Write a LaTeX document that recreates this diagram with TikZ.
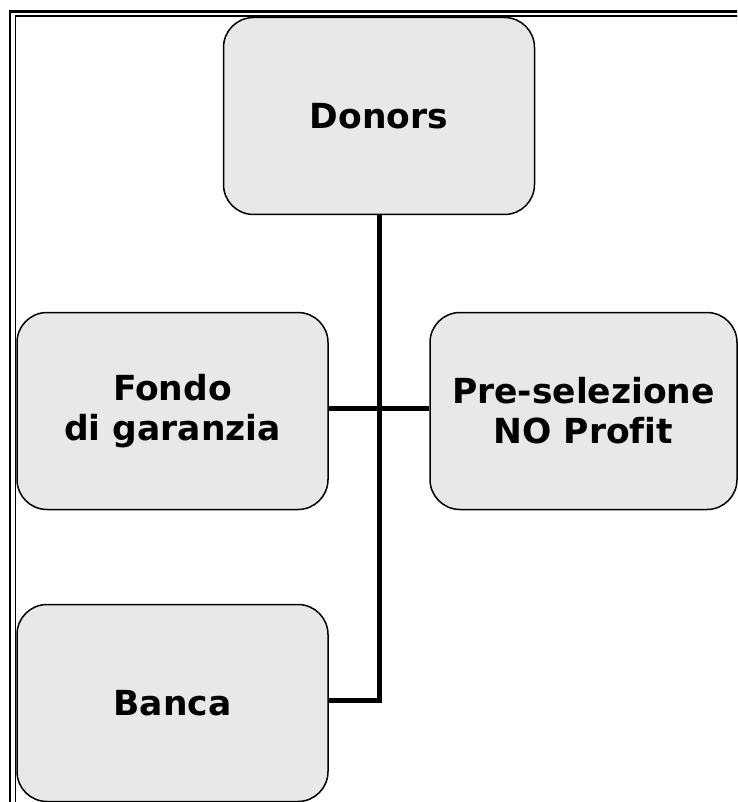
\documentclass[tikz,border=0pt]{standalone}
\usepackage{fontspec}
\setmainfont[Ligatures=NoCommon]{DejaVu Sans}
\begin{document}
\begin{tikzpicture}[x=1pt,y=-1pt,
  box/.style={draw=black, line width=1.5pt, fill=gray!18, rounded corners=30pt, font=\bfseries\fontsize{34.5}{40}\selectfont, align=center, inner sep=0pt},
  conn/.style={line width=5pt}]
\useasboundingbox (0,0) rectangle (737,802);
\begin{scope}
\clip (0,0) rectangle (737,802);
\draw[line width=2.5pt] (10,11.5) rectangle (760,830);
\draw[line width=1.2pt] (15.5,16) rectangle (760,830);
\end{scope}
\node[box, minimum width=311pt, minimum height=197pt] (donors) at (379,116) {Donors};
\node[box, minimum width=311pt, minimum height=197pt] (fondo) at (172.5,411) {Fondo\\di garanzia};
\node[box, minimum width=307pt, minimum height=197pt] (pre) at (583.5,411) {Pre-selezione\\NO Prof\kern0pt it};
\node[box, minimum width=311pt, minimum height=197pt] (banca) at (172.5,703) {Banca};
\coordinate (trunk) at (379,408);
\coordinate (bot) at (379,700);
\draw[conn] (donors.south) -- (379,700) -- (banca.east |- bot);
\draw[conn] (fondo.east |- trunk) -- (pre.west |- trunk);
\end{tikzpicture}
\end{document}
